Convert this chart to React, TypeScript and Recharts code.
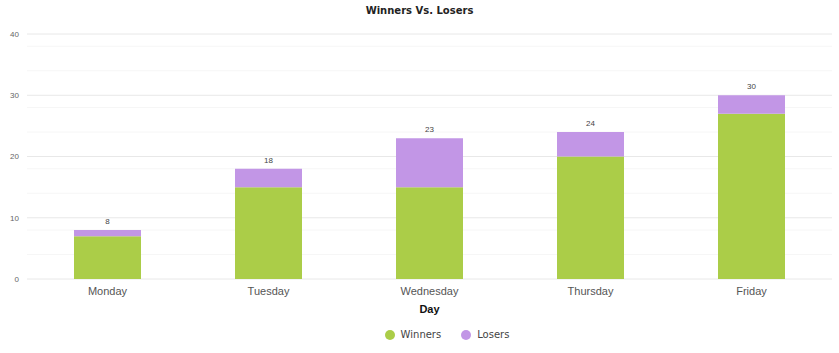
import { BarChart, Bar, XAxis, YAxis, CartesianGrid, Legend, LabelList } from "recharts";

const days = ["Monday", "Tuesday", "Wednesday", "Thursday", "Friday"];
const winners = [7, 15, 15, 20, 27];
const losers = [1, 3, 8, 4, 3];
const yTicks = [0, 10, 20, 30, 40];
const minorLines = [2, 4, 6, 8, 12, 14, 16, 18, 22, 24, 26, 28, 32, 34, 36, 38];

const data = days.map((day, i) => ({
  day,
  Winners: winners[i],
  Losers: losers[i],
  total: winners[i] + losers[i],
}));

const GREEN = "#abcd48";
const PURPLE = "#c296e6";

export default function App() {
  return (
    <div style={{ position: "absolute", left: 0, top: 0, width: 839, height: 353, fontFamily: "'Liberation Sans', Arial, sans-serif" }}>
      <div
        style={{
          position: "absolute",
          top: 5,
          width: 839,
          textAlign: "center",
          fontSize: 10,
          fontWeight: "bold",
          color: "#222",
          fontFamily: "'DejaVu Sans', Verdana, sans-serif",
        }}
      >
        Winners Vs. Losers
      </div>
      <BarChart
        width={839}
        height={353}
        data={data}
        margin={{ top: 34, right: 7, left: 0, bottom: 13 }}
        barSize={67}
      >
        <CartesianGrid vertical={false} horizontalValues={minorLines} stroke="#f6f6f6" />
        <CartesianGrid vertical={false} horizontalValues={yTicks} stroke="#e8e8e8" />
        <XAxis
          dataKey="day"
          axisLine={false}
          tickLine={false}
          tick={{ fill: "#555", fontSize: 11 }}
          height={50}
          label={{ value: "Day", position: "insideBottom", offset: 16, fill: "#111", fontSize: 11, fontWeight: "bold" }}
        />
        <YAxis
          domain={[0, 40]}
          ticks={yTicks}
          axisLine={false}
          tickLine={false}
          width={27}
          tick={{ fill: "#666", fontSize: 8 }}
        />
        <Legend
          iconType="circle"
          iconSize={10}
          itemSorter={(item: any) => (item.value === "Winners" ? 0 : 1)}
          wrapperStyle={{ fontSize: 10, color: "#444", paddingLeft: 41, fontFamily: "'DejaVu Sans', Verdana, sans-serif" }}
          formatter={(v) => <span style={{ color: "#444", marginLeft: 2, marginRight: 10 }}>{v}</span>}
        />
        <Bar dataKey="Winners" stackId="a" fill={GREEN} isAnimationActive={false} />
        <Bar dataKey="Losers" stackId="a" fill={PURPLE} isAnimationActive={false}>
          <LabelList dataKey="total" position="top" offset={6} fill="#444" fontSize={8} />
        </Bar>
      </BarChart>
    </div>
  );
}
